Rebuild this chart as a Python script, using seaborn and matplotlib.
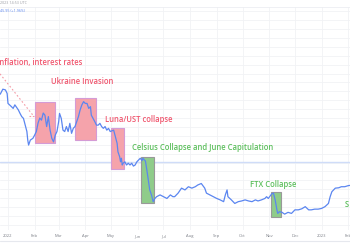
import numpy as np
import pandas as pd
import matplotlib
matplotlib.use("Agg")
import matplotlib.pyplot as plt
import seaborn as sns
from matplotlib.patches import Rectangle
from matplotlib.lines import Line2D

# ---- data (days since 2022-01-01, BTC price in k USD) ----
days = [-9, -6, -3, -1, 0, 4, 6, 8, 12, 14, 16, 18, 20, 22, 23, 24, 26, 29, 31, 33,
        35, 37, 39, 41, 43, 45, 47, 49, 51, 53, 55, 57, 59, 60, 62, 64, 66, 68, 70, 72,
        74, 76, 78, 80, 82, 84, 86, 88, 90, 92, 94, 96, 97, 99, 101, 103, 105, 107, 109, 111,
        113, 115, 117, 119, 123, 125, 127, 128, 130, 131, 132, 133, 134, 136, 138, 140, 142, 144, 146, 148,
        150, 152, 154, 156, 157, 160, 162, 165, 167, 169, 171, 173, 177, 181, 185, 189, 192, 194, 198, 202,
        206, 210, 214, 218, 221, 225, 229, 231, 235, 239, 243, 247, 251, 253, 255, 256, 260, 264, 268, 272,
        276, 280, 284, 288, 291, 295, 299, 301, 303, 307, 309, 311, 313, 314, 316, 319, 322, 326, 330, 334,
        338, 342, 346, 350, 353, 357, 361, 365, 369, 373, 375, 377, 379, 381, 385, 388, 392, 396, 399]
price_k = [49.2, 50.6, 50.4, 49.4, 46.6, 45.7, 45.2, 46.2, 44.8, 43.8, 42.9, 42.4, 40.5, 38.7, 36.3, 34.9, 36.3, 36.8, 37.7, 38.7,
           41.1, 42.5, 41.9, 43.9, 43.3, 40.1, 42.9, 39.1, 36.8, 35.8, 37.7, 38.7, 41.5, 43.8, 42.4, 39.1, 38.7, 40.1, 38.7, 41.0,
           38.2, 39.6, 40.1, 41.5, 42.9, 44.8, 46.2, 47.1, 46.6, 46.6, 45.2, 45.7, 43.3, 42.4, 41.5, 40.5, 40.5, 41.0, 40.1, 39.6,
           40.1, 39.1, 39.6, 38.7, 39.1, 37.3, 35.4, 33.0, 31.6, 30.2, 31.2, 29.3, 29.8, 30.2, 29.3, 29.8, 29.3, 29.8, 29.0, 29.3,
           30.2, 30.7, 31.2, 30.5, 31.2, 30.4, 27.3, 22.3, 20.9, 19.0, 19.9, 20.4, 20.9, 20.4, 19.9, 20.9, 20.4, 20.4, 21.4, 22.8,
           22.3, 23.2, 22.8, 23.2, 23.7, 24.1, 22.8, 21.4, 20.9, 20.4, 19.9, 19.5, 19.0, 20.9, 22.3, 20.4, 19.5, 18.5, 19.0, 19.2,
           19.5, 19.2, 19.0, 19.5, 19.2, 19.5, 19.9, 20.4, 19.9, 21.2, 21.4, 19.5, 16.7, 15.7, 16.2, 16.0, 15.5, 16.0, 15.7, 16.7,
           16.7, 17.0, 17.6, 16.7, 16.7, 16.9, 16.9, 17.1, 17.6, 18.5, 20.4, 21.8, 22.3, 22.8, 22.9, 23.2, 23.2, 23.5, 23.6]

# event boxes: (start day, end day, low k, high k, kind)
box_start = [31, 78, 120, 155, 306]
box_end = [55, 102, 135, 170, 318]
box_low = [35.5, 36.3, 28.2, 18.6, 14.7]
box_high = [47.0, 48.1, 39.7, 31.6, 21.7]
box_kind = ["red", "red", "red", "green", "green"]

# annotations
ann_text = ["Inflation, interest rates", "Ukraine Invasion", "Luna/UST collapse",
            "Celsius Collapse and June Capitulation", "FTX Collapse", "S"]
ann_day = [87, 86, 152, 227, 309, 392]
ann_price = [58.2, 52.9, 42.2, 34.1, 23.7, 18.1]
ann_ha = ["right", "center", "center", "center", "center", "left"]
ann_kind = ["red", "red", "red", "green", "green", "green"]

month_ticks = ["2022-01-01", "2022-02-01", "2022-03-01", "2022-04-01", "2022-05-01", "2022-06-01",
               "2022-07-01", "2022-08-01", "2022-09-01", "2022-10-01", "2022-11-01", "2022-12-01",
               "2023-01-01", "2023-02-01"]
month_labels = ["2022", "Feb", "Mar", "Apr", "May", "Jun", "Jul", "Aug", "Sep", "Oct", "Nov", "Dec", "2023", "Feb"]

ref_price = 30.15

# ---- plotting ----
sns.set_style("white")
plt.rcParams['font.family'] = ['Open Sans', 'DejaVu Sans']

base = pd.Timestamp("2022-01-01")
df = pd.DataFrame({"date": base + pd.to_timedelta(days, unit="D"), "price": price_k})

fig = plt.figure(figsize=(3.5, 2.5), dpi=100)
ax = fig.add_axes([0, 1 - 230 / 250, 1, 223 / 250])

RED = "#f0566e"
GREEN = "#5cbf5c"

ax.set_xlim(base + pd.Timedelta(days=-9.3), base + pd.Timedelta(days=398.1))
ax.set_ylim(11.04, 73.69)

# grid
for yv in np.arange(12.5, 75, 2.5):
    ax.axhline(yv, color="#f1f2f5", lw=0.6, zorder=0)
for t in month_ticks:
    ax.axvline(pd.Timestamp(t), color="#f1f2f5", lw=0.6, zorder=0)

ax.axhline(ref_price, color="#cfdcf8", lw=1.0, zorder=1)

for s, e, lo, hi, k in zip(box_start, box_end, box_low, box_high, box_kind):
    x0 = matplotlib.dates.date2num(base + pd.Timedelta(days=s))
    x1 = matplotlib.dates.date2num(base + pd.Timedelta(days=e))
    if k == "red":
        fc, ec = "#f5a3ab", "#d49bd6"
    else:
        fc, ec = "#8fcc8a", "#999999"
    ax.add_patch(Rectangle((x0, lo), x1 - x0, hi - lo, facecolor=fc, edgecolor=ec,
                           lw=0.8, zorder=2))

sns.lineplot(data=df, x="date", y="price", ax=ax, color="#5b86f0", lw=0.9, zorder=3)

for t, d, p, ha, k in zip(ann_text, ann_day, ann_price, ann_ha, ann_kind):
    ax.text(base + pd.Timedelta(days=d), p, t, ha=ha, va="center", fontsize=5.5,
            color=RED if k == "red" else GREEN, fontweight="semibold", zorder=4)

# dotted pointer
ax.plot([base + pd.Timedelta(days=-9.3), base + pd.Timedelta(days=29)], [54.9, 43.3],
        ls=(0, (1.5, 2)), color="#f39aa5", lw=0.8, zorder=4)
ax.plot([base + pd.Timedelta(days=24.4), base + pd.Timedelta(days=30.3)], [43.1, 43.1],
        ls=(0, (1.5, 1.5)), color="#f39aa5", lw=0.8, zorder=4)

ax.set_xticks([pd.Timestamp(t) for t in month_ticks])
ax.set_xticklabels(month_labels)
ax.tick_params(axis="x", length=0, pad=3.0, labelsize=3, labelcolor="#7d8088")
ax.set_yticks([])
ax.set_xlabel("")
ax.set_ylabel("")
for sp in ax.spines.values():
    sp.set_visible(False)

fig.add_artist(Line2D([0, 1], [1 - 241 / 250] * 2, color="#e6e8ee", lw=0.8))
fig.add_artist(Line2D([0, 1], [1 - 7 / 250] * 2, color="#eceef2", lw=0.6))
fig.text(0.0, 1 - 3.5 / 250, "2023 14:53 UTC", fontsize=2.6, color="#9a9ca3", va="center", ha="left")
fig.text(0.0, 1 - 11 / 250, "45.95 (+1.96%)", fontsize=2.6, color="#5b86f0", va="center", ha="left")

fig.savefig("out.png", dpi=100)
